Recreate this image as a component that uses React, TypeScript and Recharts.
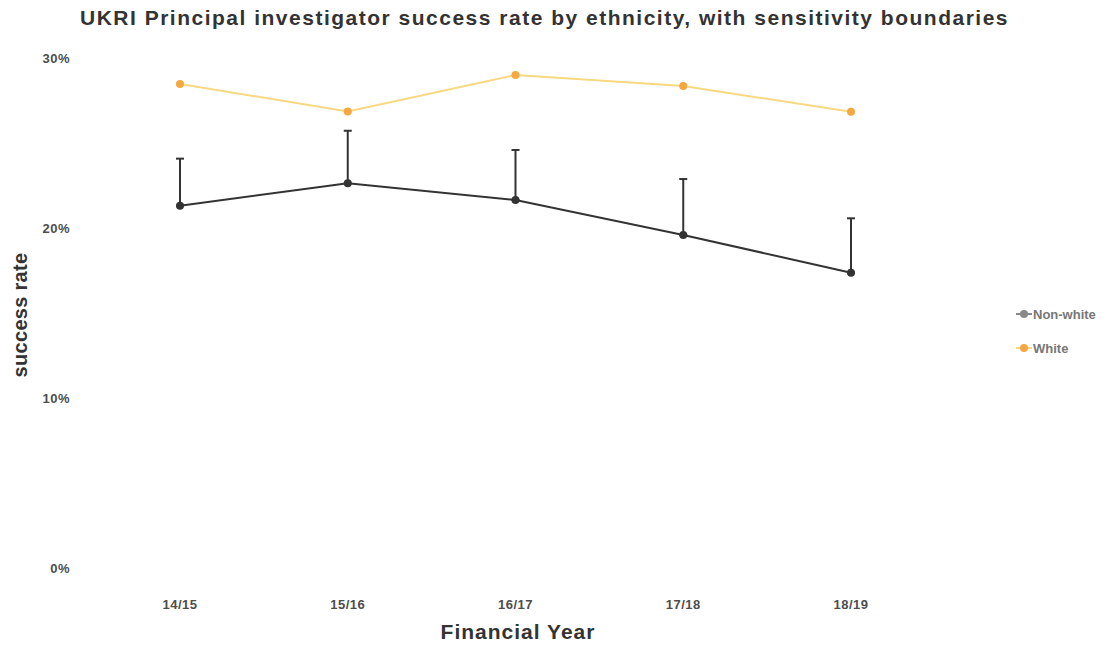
import React from 'react';
import { LineChart, Line, XAxis, YAxis, ErrorBar } from 'recharts';

const years = ['14/15', '15/16', '16/17', '17/18', '18/19'];
const whiteRate = [0.2847, 0.2686, 0.29, 0.2835, 0.2684];
const nonWhiteRate = [0.2131, 0.2263, 0.2165, 0.1959, 0.1737];
// upper sensitivity boundary for non-white applicants
const nonWhiteUpper = [0.2408, 0.2572, 0.2459, 0.2288, 0.2057];
const yTicks = [0, 0.1, 0.2, 0.3];

const data = years.map((y, i) => ({
  year: y,
  white: whiteRate[i],
  nonWhite: nonWhiteRate[i],
  // only the upward part of the boundary is drawn
  nonWhiteErr: [0, nonWhiteUpper[i] - nonWhiteRate[i]],
}));

const FONT = '"Liberation Sans", Arial, sans-serif';
const WHITE_LINE = '#f7d982';
const WHITE_DOT = '#f5a742';
const NONWHITE = '#333333';

const tickStyle = { fill: '#4d4d4d', fontSize: 13, fontWeight: 700, fontFamily: FONT, letterSpacing: 0.5 };

export default function App() {
  return (
    <div style={{ position: 'absolute', left: 0, top: 0, width: 1110, height: 649, background: '#fff', fontFamily: FONT }}>
      <div style={{ position: 'absolute', left: 80, top: 6, fontSize: 21, fontWeight: 700, color: '#333', whiteSpace: 'nowrap', letterSpacing: 1.5 }}>
        UKRI Principal investigator success rate by ethnicity, with sensitivity boundaries
      </div>
      <div style={{ position: 'absolute', left: 518, top: 620, transform: 'translateX(-50%)', fontSize: 21, fontWeight: 700, color: '#333', whiteSpace: 'nowrap', letterSpacing: 1 }}>
        Financial Year
      </div>
      <div style={{ position: 'absolute', left: 20, top: 315, transform: 'translate(-50%, -50%) rotate(-90deg)', fontSize: 20, fontWeight: 700, color: '#333', whiteSpace: 'nowrap', letterSpacing: 0.3 }}>
        success rate
      </div>

      <LineChart width={1110} height={649} data={data} margin={{ top: 58, right: 159, left: 40, bottom: 0 }}>
        <XAxis
          dataKey="year"
          padding={{ left: 100, right: 100 }}
          axisLine={false}
          tickLine={false}
          tickMargin={26}
          height={81}
          tick={tickStyle}
        />
        <YAxis
          domain={[0, 0.3]}
          ticks={yTicks}
          width={40}
          axisLine={false}
          tickLine={false}
          tickMargin={4}
          tickFormatter={(v: number) => `${Math.round(v * 100)}%`}
          tick={tickStyle}
        />
        <Line
          dataKey="white"
          stroke={WHITE_LINE}
          strokeWidth={2}
          dot={{ r: 4, fill: WHITE_DOT, stroke: WHITE_DOT, strokeWidth: 0 }}
          isAnimationActive={false}
        />
        <Line
          dataKey="nonWhite"
          stroke={NONWHITE}
          strokeWidth={2}
          dot={{ r: 4, fill: NONWHITE, stroke: NONWHITE, strokeWidth: 0 }}
          isAnimationActive={false}
        >
          <ErrorBar dataKey="nonWhiteErr" direction="y" width={4} stroke={NONWHITE} strokeWidth={2} isAnimationActive={false} />
        </Line>
      </LineChart>

      {/* legend */}
      <svg style={{ position: 'absolute', left: 1010, top: 300 }} width={100} height={60}>
        <line x1={6} x2={22} y1={14} y2={14} stroke="#888" strokeWidth={2} />
        <circle cx={14} cy={14} r={4} fill="#888" />
        <text x={23} y={19} fontSize={13} fontWeight={700} fill="#777" fontFamily={FONT}>Non-white</text>
        <line x1={6} x2={22} y1={48} y2={48} stroke={WHITE_LINE} strokeWidth={2} />
        <circle cx={14} cy={48} r={4} fill={WHITE_DOT} />
        <text x={23} y={53} fontSize={13} fontWeight={700} fill="#777" fontFamily={FONT}>White</text>
      </svg>
    </div>
  );
}
